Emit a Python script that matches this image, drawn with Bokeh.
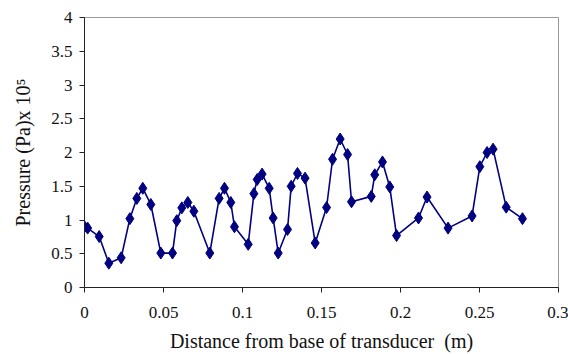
from bokeh.plotting import figure
from bokeh.models import FixedTicker, ColumnDataSource, CustomJSTickFormatter
from bokeh.embed import file_html
from bokeh.resources import INLINE

distance = [0.0, 0.002, 0.0093, 0.0154, 0.0232, 0.0287, 0.0331, 0.0369, 0.042, 0.0483,
            0.0557, 0.0584, 0.0616, 0.0654, 0.0692, 0.0793, 0.0852, 0.0886, 0.0926, 0.0949,
            0.1036, 0.1072, 0.1093, 0.1124, 0.1169, 0.1194, 0.1226, 0.1285, 0.1308, 0.1348,
            0.1396, 0.146, 0.1532, 0.157, 0.1618, 0.1665, 0.169, 0.1815, 0.1837, 0.1886,
            0.1932, 0.1975, 0.2114, 0.2168, 0.2301, 0.2453, 0.2502, 0.2548, 0.2586, 0.2669,
            0.2772]
pressure = [0.90, 0.88, 0.755, 0.36, 0.44, 1.02, 1.32, 1.47, 1.23, 0.51,
            0.51, 0.99, 1.18, 1.26, 1.13, 0.51, 1.32, 1.47, 1.26, 0.90,
            0.64, 1.39, 1.60, 1.68, 1.47, 1.03, 0.51, 0.86, 1.50, 1.69,
            1.62, 0.66, 1.185, 1.90, 2.20, 1.97, 1.27, 1.35, 1.67, 1.86,
            1.49, 0.77, 1.03, 1.34, 0.88, 1.06, 1.79, 2.00, 2.05, 1.19,
            1.02]

x_ticks = [0, 0.05, 0.1, 0.15, 0.2, 0.25, 0.3]
x_tick_labels = ["0", "0.05", "0.1", "0.15", "0.2", "0.25", "0.3"]
y_ticks = [0, 0.5, 1, 1.5, 2, 2.5, 3, 3.5, 4]
y_tick_labels = ["0", "0.5", "1", "1.5", "2", "2.5", "3", "3.5", "4"]

x_title = "Distance from base of transducer\u00a0\u00a0(m)"
y_title = "Pressure (Pa)x 10\u2075"

src = ColumnDataSource(dict(x=distance, y=pressure))

p = figure(width=568, height=354, output_backend="svg", toolbar_location=None,
           x_range=(0, 0.3), y_range=(0, 4),
           min_border_left=84, min_border_right=10, min_border_top=17, min_border_bottom=67)

p.line("x", "y", source=src, line_color="#000080", line_width=1.6)
p.scatter("x", "y", source=src, marker="diamond", size=12,
          fill_color="#000080", line_color="#000080")

p.grid.visible = False
p.outline_line_color = "#999999"
p.outline_line_width = 1
p.background_fill_color = "white"
p.border_fill_color = "white"

fmt_code = """
let best = 0, bd = Infinity;
for (let i = 0; i < tick_vals.length; i++) {
  const d = Math.abs(tick_vals[i] - tick);
  if (d < bd) { bd = d; best = i; }
}
return tick_text[best];
"""

font = "Liberation Serif"
for ax, ticks, labels, title in ((p.xaxis[0], x_ticks, x_tick_labels, x_title),
                                 (p.yaxis[0], y_ticks, y_tick_labels, y_title)):
    ax.ticker = FixedTicker(ticks=ticks)
    ax.formatter = CustomJSTickFormatter(args=dict(tick_vals=ticks, tick_text=labels), code=fmt_code)
    ax.minor_tick_line_color = None
    ax.major_tick_in = 0
    ax.major_tick_out = 5
    ax.axis_line_color = "#222222"
    ax.major_tick_line_color = "#222222"
    ax.major_label_text_font = font
    ax.major_label_text_font_size = "17px"
    ax.major_label_text_color = "#111111"
    ax.axis_label = title
    ax.axis_label_text_font = font
    ax.axis_label_text_font_size = "20px"
    ax.axis_label_text_font_style = "normal"
    ax.axis_label_text_color = "#111111"

p.xaxis[0].major_label_standoff = 14
p.xaxis[0].axis_label_standoff = 9
p.yaxis[0].major_label_standoff = 7
p.yaxis[0].axis_label_standoff = 14

open("out.html", "w").write(file_html(p, INLINE))
